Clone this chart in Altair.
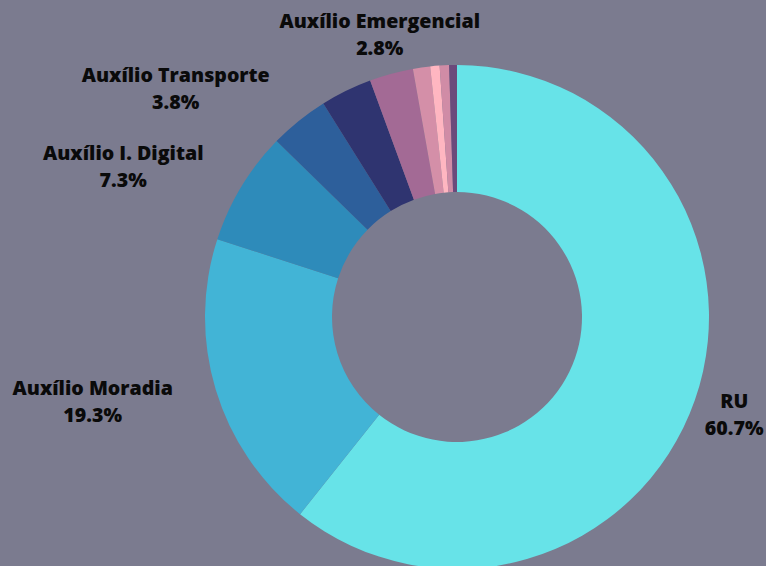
import altair as alt
import pandas as pd

categories = ["RU", "Auxílio Moradia", "Auxílio I. Digital", "Auxílio Transporte",
              "Outro Auxílio A", "Auxílio Emergencial", "Outro Auxílio B",
              "Outro Auxílio C", "Outro Auxílio D", "Outro Auxílio E"]
values = [60.7, 19.3, 7.3, 3.8, 3.3, 2.8, 1.1, 0.6, 0.6, 0.5]
colors = ["#67E3E8", "#42B4D6", "#2E8BBA", "#2D5F9B", "#2F3470",
          "#A36A95", "#D48FA8", "#FFB6C1", "#D08CA6", "#6B4A7B"]
labeled = ["RU", "Auxílio Moradia", "Auxílio I. Digital", "Auxílio Transporte", "Auxílio Emergencial"]

df = pd.DataFrame({
    "cat": categories,
    "value": values,
    "idx": list(range(len(categories))),
    "label": [f"{c}\n{v:.1f}%" for c, v in zip(categories, values)],
})

CX, CY = 457, 317
BG = "#7B7B8F"

theta = alt.Theta("value:Q", stack=True)
order = alt.Order("idx:Q", sort="ascending")

arcs = alt.Chart(df).mark_arc(innerRadius=125, outerRadius=252, strokeWidth=0).encode(
    theta=theta,
    order=order,
    x=alt.value(CX),
    y=alt.value(CY),
    color=alt.Color("cat:N", scale=alt.Scale(domain=categories, range=colors), legend=None),
)

# per-label offsets (style tweaks to avoid overlaps, as in the original)
offsets = {
    "RU": (-6, -14),
    "Auxílio Moradia": (-77, -14),
    "Auxílio I. Digital": (-77, -8),
    "Auxílio Transporte": (-93, -7),
    "Auxílio Emergencial": (1, -5),
}

layers = [arcs]
for name in labeled:
    dx, dy = offsets[name]
    t = alt.Chart(df).mark_text(
        radius=300, dx=dx, dy=dy, font="Open Sans", fontWeight=800, fontSize=19.6,
        lineHeight=27, lineBreak="\n", align="center", baseline="middle", color="#0A0A0A",
    ).encode(
        theta=theta,
        order=order,
        x=alt.value(CX),
        y=alt.value(CY),
        text=alt.condition(f"datum.cat == '{name}'", alt.Text("label:N"), alt.value("")),
    )
    layers.append(t)

chart = alt.layer(*layers).properties(
    width=766, height=566, background=BG, padding=0,
    autosize=alt.AutoSizeParams(type="none"),
).configure_view(stroke=None)

chart.save("out.html", embed_options={"renderer": "svg", "actions": False})
